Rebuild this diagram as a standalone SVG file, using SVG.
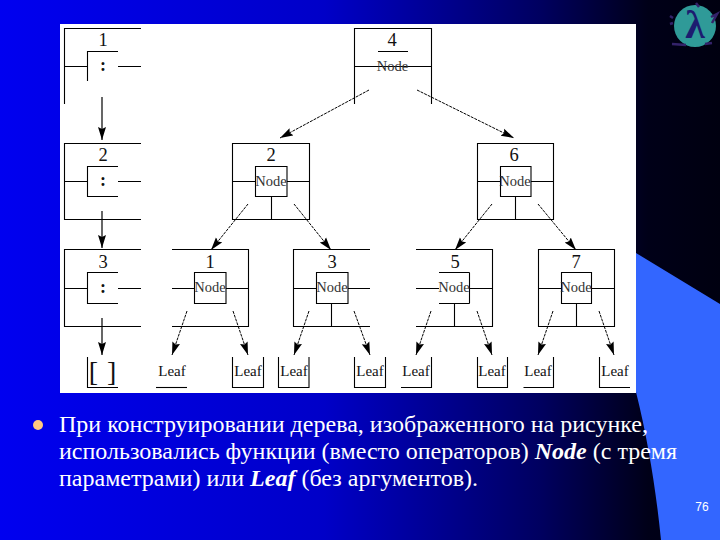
<svg xmlns="http://www.w3.org/2000/svg" width="720" height="540" viewBox="0 0 720 540">
<style>
.l{fill:none;stroke:#000;stroke-width:1.1}
.n{font:18.5px "Liberation Serif",serif;fill:#111;text-anchor:middle}
.c{font:bold 18px "Liberation Serif",serif;fill:#111;text-anchor:middle}
.o{font:14.5px "Liberation Serif",serif;fill:#333;text-anchor:middle}
.f{font:15px "Liberation Serif",serif;fill:#111;text-anchor:middle}
.t{font:24px "Liberation Serif",serif;fill:#fff}
.b{font-weight:bold;font-style:italic}
.a{fill:none;stroke:#000;stroke-width:1.2;marker-end:url(#h)}
.d{stroke-dasharray:3 1;stroke-width:1}
</style>
<defs>
<linearGradient id="bg" x1="0" y1="0" x2="1" y2="0">
<stop offset="0" stop-color="#0000f0"/>
<stop offset="0.45" stop-color="#0000c8"/>
<stop offset="0.75" stop-color="#000060"/>
<stop offset="0.9" stop-color="#000018"/>
<stop offset="1" stop-color="#000010"/>
</linearGradient>
<marker id="h" markerUnits="userSpaceOnUse" markerWidth="15" markerHeight="10" refX="13" refY="4.500" orient="auto">
<path d="M0 0.500L13 4.500L0 8.500L2 4.500Z" fill="#000"/>
</marker>
</defs>
<rect width="720" height="540" fill="url(#bg)"/>
<path d="M636 253L720 304V540H661C656 490 648 440 636 392Z" fill="#3366ff"/>
<g id="logo">
<circle cx="695" cy="26" r="21" fill="#2f9a98"/>
<path d="M672 44L686 45M705 44L712 43M696 3L699 7M670 16L673 18M670 24L673 23M711 17L717 14L712 23" fill="none" stroke="#33226a" stroke-width="2.5"/>
<text x="695" y="38" text-anchor="middle" style="font:bold 40px 'Liberation Serif',serif;fill:#1c1c70">λ</text>
</g>
<rect x="60" y="24" width="576" height="369" fill="#fff"/>
<g id="connectors">
<path class="a" d="M102 97V140"/>
<path class="a" d="M102 211V248"/>
<path class="a" d="M102 318V355"/>
<path class="a d" d="M369 90L280 138"/>
<path class="a d" d="M417 90L514 138"/>
<path class="a d" d="M248 204L211 250"/>
<path class="a d" d="M294 204L331 250"/>
<path class="a d" d="M492 204L455 250"/>
<path class="a d" d="M538 204L576 250"/>
<path class="a d" d="M187 311L172 355"/>
<path class="a d" d="M233 311L248 355"/>
<path class="a d" d="M309 311L294 355"/>
<path class="a d" d="M354 311L370 355"/>
<path class="a d" d="M431 311L416 355"/>
<path class="a d" d="M477 311L492 355"/>
<path class="a d" d="M553 311L538 355"/>
<path class="a d" d="M599 311L614 355"/>
</g>
<g id="list1"><path class="l" d="M141 28.500H64.500V104M64.500 66.500H87.500M87.500 81V51.500H118M118 66.500H141"/><text class="n" x="103" y="46">1</text><text class="c" x="103" y="71">:</text></g>
<g id="list2"><path class="l" d="M141 143.500H64.500V219.500H141M64.500 181.500H87.500M118 166.500H87.500V196.500H118M118 181.500H141"/><text class="n" x="103" y="161">2</text><text class="c" x="103" y="186">:</text></g>
<g id="list3"><path class="l" d="M141 249.500H64.500V326.500H141M64.500 288.500H87.500M118 272.500H87.500V303.500H118M118 288.500H141"/><text class="n" x="103" y="268">3</text><text class="c" x="103" y="293">:</text></g>
<g id="nil"><path class="l" d="M87.500 357V387.500H118"/><text x="103" y="381" text-anchor="middle" style="font:28px 'Liberation Serif',serif;fill:#111;letter-spacing:1px">[ ]</text></g>
<g id="tree4"><path class="l" d="M354.500 104V28.500H431.500V104M354.500 66.500H431.500M378 51.500H408"/><text class="n" x="392" y="46">4</text><text class="o" x="392.500" y="71">Node</text></g>
<g id="tree2"><path class="l" d="M232.500 143.500H309.500V219.500H232.500ZM255.500 166.500H287V196.500H255.500ZM232.500 181.500H255.500M287 181.500H309.500M271.500 196.500V219.500"/><text class="n" x="271" y="161">2</text><text class="o" x="271" y="186">Node</text></g>
<g id="tree6"><path class="l" d="M477.500 143.500H553.500V219.500H477.500ZM500.500 166.500H531V196.500H500.500ZM477.500 181.500H500.500M531 181.500H553.500M515.500 196.500V219.500"/><text class="n" x="514" y="161">6</text><text class="o" x="515" y="186">Node</text></g>
<g id="tree1"><path class="l" d="M172 249.500H248.500V326.500H172M194.500 272.500H226V303.500H194.500ZM172 288.500H194.500M226 288.500H248.500"/><text class="n" x="210" y="268">1</text><text class="o" x="210" y="292">Node</text></g>
<g id="tree3"><path class="l" d="M370 249.500H293.500V326.500H370M316.500 272.500H348V303.500H316.500ZM293.500 288.500H316.500M348 288.500H370M331.500 303.500V326.500"/><text class="n" x="332" y="268">3</text><text class="o" x="332" y="292">Node</text></g>
<g id="tree5"><path class="l" d="M416 249.500H492.500V326.500H416M469.500 272.500H439M439 303.500H469.500M469.500 272.500V303.500M416 288.500H439M469.500 288.500H492.500M454.500 303.500V326.500"/><text class="n" x="455" y="268">5</text><text class="o" x="454" y="292">Node</text></g>
<g id="tree7"><path class="l" d="M538.500 249.500H614.500V326.500H538.500ZM561.500 272.500H591.500V303.500H561.500ZM538.500 288.500H561.500M591.500 288.500H614.500M576.500 303.500V326.500"/><text class="n" x="576" y="268">7</text><text class="o" x="576" y="292">Node</text></g>
<g id="leaf1"><path class="l" d="M156 387.500H187"/><text class="f" x="172" y="376">Leaf</text></g>
<g id="leaf2"><path class="l" d="M232.500 357V387.500H263.500V357"/><text class="f" x="248" y="376">Leaf</text></g>
<g id="leaf3"><path class="l" d="M278.500 357V387.500H309V357"/><text class="f" x="294" y="376">Leaf</text></g>
<g id="leaf4"><path class="l" d="M354.500 357V387.500H385.500V357"/><text class="f" x="370" y="376">Leaf</text></g>
<g id="leaf5"><path class="l" d="M401 387.500H431.500V357"/><text class="f" x="416" y="376">Leaf</text></g>
<g id="leaf6"><path class="l" d="M477.500 357V387.500H507.500V357"/><text class="f" x="492" y="376">Leaf</text></g>
<g id="leaf7"><path class="l" d="M523.500 387.500H553.500V357"/><text class="f" x="538" y="376">Leaf</text></g>
<g id="leaf8"><path class="l" d="M599.500 357V387.500H630"/><text class="f" x="615" y="376">Leaf</text></g>
<circle cx="38" cy="425" r="5" fill="#ffc880"/>
<text class="t" x="59" y="432">При конструировании дерева, изображенного на рисунке,</text>
<text class="t" x="59" y="459">использовались функции (вместо операторов) <tspan class="b">Node</tspan> (с тремя</text>
<text class="t" x="59" y="486">параметрами) или <tspan class="b">Leaf</tspan> (без аргументов).</text>
<text x="702" y="511" text-anchor="middle" style="font:12px 'Liberation Sans',sans-serif;fill:#fff">76</text>
</svg>
